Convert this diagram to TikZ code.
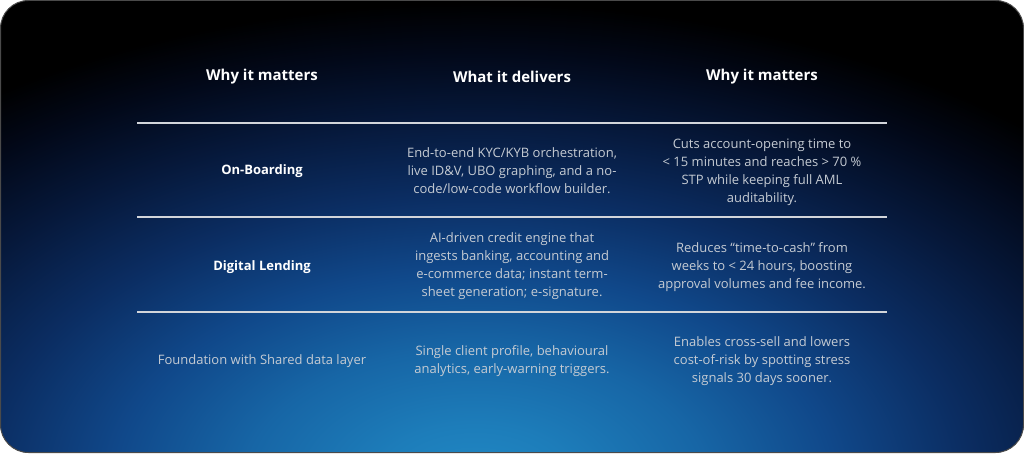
\documentclass[tikz,border=0pt]{standalone}
\usepackage{fontspec}
\setmainfont{Open Sans}
\definecolor{bodytext}{HTML}{C5CBD3}
\definecolor{rulecol}{HTML}{D2D5DA}
\definecolor{framecol}{HTML}{4A4A4A}
\definecolor{gA}{HTML}{2189C5}
\definecolor{gB}{HTML}{1D7DBA}
\definecolor{gC}{HTML}{1766A6}
\definecolor{gD}{HTML}{10488A}
\definecolor{gE}{HTML}{0B2D62}
\definecolor{gF}{HTML}{06183A}
\definecolor{gG}{HTML}{020818}
\pgfdeclareradialshading{glow}{\pgfpoint{0bp}{0bp}}{color(0bp)=(gA); color(3bp)=(gB); color(7bp)=(gC); color(11bp)=(gD); color(15bp)=(gE); color(19bp)=(gF); color(22.5bp)=(gG); color(25bp)=(black); color(50bp)=(black)}
\tikzset{
  hdr/.style={text=white, font=\bfseries\fontsize{15}{18}\selectfont, align=center, inner sep=0pt},
  rowlab/.style={text=white, font=\bfseries\fontsize{13}{18}\selectfont, align=center, inner sep=0pt},
  rowplain/.style={text=bodytext, font=\fontsize{13}{18}\selectfont, align=center, inner sep=0pt},
  cell/.style={text=bodytext, font=\fontsize{13}{18}\selectfont, align=center, inner sep=0pt},
  rulestyle/.style={draw=rulecol, line width=1.2pt},
}
\begin{document}
\begin{tikzpicture}[x=1pt,y=1pt]
\useasboundingbox (0,0) rectangle (1024,453);
\fill[white] (0,0) rectangle (1024,453);
\begin{scope}
  \clip[rounded corners=28pt] (0.5,0.5) rectangle (1023.5,452.5);
  \fill[black] (0,0) rectangle (1024,453);
  \shade[shading=glow] (475,-30) ellipse [x radius=820, y radius=480];
\end{scope}
\draw[framecol, line width=1pt, rounded corners=28pt] (0.5,0.5) rectangle (1023.5,452.5);

% headers
\node[hdr] (h1) at (262,376) {Why it matters};
\node[hdr] (h2) at (512,376) {What it delivers};
\node[hdr] (h3) at (762,376) {Why it matters};

% rules
\coordinate (r1a) at (137,330); \coordinate (r1b) at (887,330);
\coordinate (r2a) at (137,236); \coordinate (r2b) at (887,236);
\coordinate (r3a) at (137,141); \coordinate (r3b) at (887,141);
\draw[rulestyle] (r1a) -- (r1b);
\draw[rulestyle] (r2a) -- (r2b);
\draw[rulestyle] (r3a) -- (r3b);

% row 1
\node[rowlab] (a1) at (262,282) {On-Boarding};
\node[cell] (b1) at (512,282) {End-to-end KYC/KYB orchestration,\\live ID\&V, UBO graphing, and a no-\\code/low-code workflow builder.};
\node[cell] (c1) at (762,281) {Cuts account-opening time to\\< 15 minutes and reaches > 70 \%\\STP while keeping full AML\\auditability.};

% row 2
\node[rowlab] (a2) at (262,186) {Digital Lending};
\node[cell] (b2) at (512,187) {AI-driven credit engine that\\ingests banking, accounting and\\e-commerce data; instant term-\\sheet generation; e-signature.};
\node[cell] (c2) at (762,186) {Reduces “time-to-cash” from\\weeks to < 24 hours, boosting\\approval volumes and fee income.};

% row 3
\node[rowplain] (a3) at (262,92) {Foundation with Shared data layer};
\node[cell] (b3) at (512,92) {Single client profile, behavioural\\analytics, early-warning triggers.};
\node[cell] (c3) at (762,92) {Enables cross-sell and lowers\\cost-of-risk by spotting stress\\signals 30 days sooner.};
\end{tikzpicture}
\end{document}
